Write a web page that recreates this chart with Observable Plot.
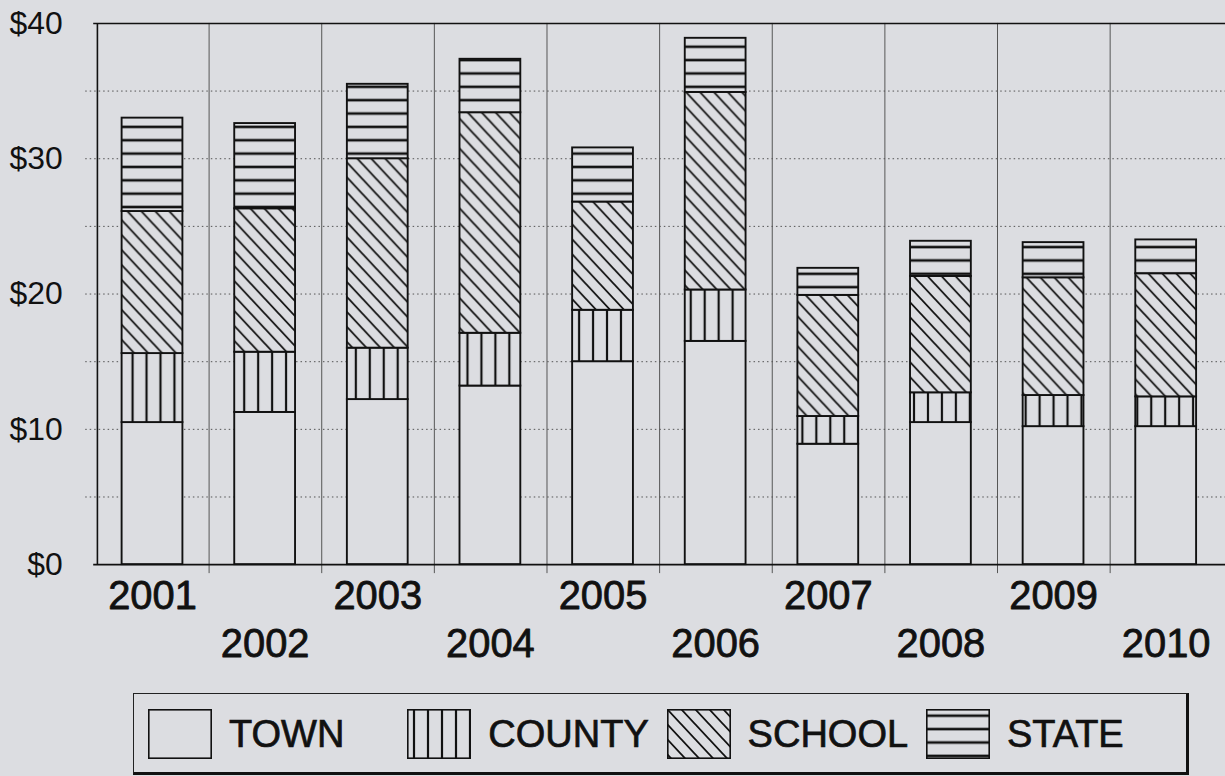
<!DOCTYPE html>
<html>
<head>
<meta charset="utf-8">
<script src="https://cdn.jsdelivr.net/npm/d3@7"></script>
<script src="https://cdn.jsdelivr.net/npm/@observablehq/plot@0.6"></script>
<style>
  html, body { margin: 0; padding: 0; background: #dcdde1; overflow: hidden; width: 1225px; height: 776px; }
  #chart { position: absolute; left: 0; top: 0; }
  #legend {
    position: absolute; left: 133px; top: 693px; width: 1052px; height: 78px;
    border-top: 1.5px solid #222; border-left: 1.5px solid #222;
    border-right: 3px solid #111; border-bottom: 3px solid #111;
    font-family: "Liberation Sans", Arial, sans-serif; color: #111;
  }
  .item { position: absolute; top: 15px; height: 50px; display: flex; align-items: center; }
  .item svg { display: block; }
  .item span { margin-left: 17px; font-size: 38px; line-height: 1; -webkit-text-stroke: 0.7px #111; }
</style>
</head>
<body>
<div id="chart"></div>
<div id="legend"></div>
<script>
const years = ["2001","2002","2003","2004","2005","2006","2007","2008","2009","2010"];
const layers = ["TOWN","COUNTY","SCHOOL","STATE"];
const town   = [10.5, 11.25, 12.2, 13.2, 15.0, 16.5, 8.9, 10.5, 10.2, 10.2];
const county = [5.1, 4.45, 3.8, 3.9, 3.8, 3.8, 2.05, 2.2, 2.3, 2.2];
const school = [10.5, 10.6, 14.0, 16.3, 8.0, 14.6, 8.95, 8.6, 8.7, 9.1];
const state  = [6.9, 6.3, 5.5, 3.95, 4.0, 4.0, 2.0, 2.6, 2.6, 2.5];
const yLabelTicks = [0, 10, 20, 30, 40];
const yGridTicks = [5, 10, 15, 20, 25, 30, 35];

const BG = "#dcdde1";
const INK = "#111";
const series = {TOWN: town, COUNTY: county, SCHOOL: school, STATE: state};
const data = [];
years.forEach((year, i) => {
  layers.forEach(layer => data.push({year, layer, value: series[layer][i]}));
});

const W = 1229, H = 680, ML = 93.5, MR = 0, MT = 23, MB = 114;
const step = (W - ML - MR) / years.length;

const chart = Plot.plot({
  width: W, height: H,
  marginLeft: ML, marginRight: MR, marginTop: MT, marginBottom: MB,
  style: {background: "transparent", fontFamily: "Liberation Sans, Arial, sans-serif", color: INK, overflow: "visible"},
  x: {domain: years, paddingInner: 0.46, paddingOuter: 0.23, axis: null},
  y: {domain: [0, 40], label: null},
  color: {domain: layers, range: [BG, "url(#p-county)", "url(#p-school)", "url(#p-state)"]},
  marks: [
    Plot.gridY(yGridTicks, {stroke: "#444", strokeOpacity: 0.9, strokeWidth: 1, strokeDasharray: "1.5,3", insetLeft: -8}),
    Plot.ruleX(years.slice(0, years.length - 1), {x: d => d, dx: step / 2, stroke: "#555", strokeWidth: 1, insetBottom: -9}),
    Plot.barY(data, Plot.stackY({x: "year", y: "value", z: "layer", fill: "layer", stroke: INK, strokeWidth: 1.9})),
    Plot.ruleY([0], {stroke: INK, strokeWidth: 1.6}),
    Plot.ruleY([40], {stroke: INK, strokeWidth: 1.6}),
    Plot.ruleX([years[0]], {x: d => d, dx: -step / 2 + 1.5, stroke: INK, strokeWidth: 1.6}),
    Plot.axisY({ticks: yLabelTicks, tickFormat: d => "$" + d, tickSize: 0, tickPadding: 31, fontSize: 32, label: null, stroke: INK, strokeWidth: 0.6}),
    Plot.text(years.filter((d, i) => i % 2 === 0), {x: d => d, frameAnchor: "bottom", dy: 32, fontSize: 40, lineAnchor: "middle", fill: INK, stroke: INK, strokeWidth: 0.8}),
    Plot.text(years.filter((d, i) => i % 2 === 1), {x: d => d, frameAnchor: "bottom", dy: 80, fontSize: 40, lineAnchor: "middle", fill: INK, stroke: INK, strokeWidth: 0.8})
  ]
});

const defs = `
<defs>
  <pattern id="p-county" patternUnits="userSpaceOnUse" width="14" height="10">
    <rect width="14" height="10" fill="${BG}"/>
    <line x1="7" y1="0" x2="7" y2="10" stroke="${INK}" stroke-width="2.2"/>
  </pattern>
  <pattern id="p-school" patternUnits="userSpaceOnUse" width="14" height="15">
    <rect width="14" height="15" fill="${BG}"/>
    <path d="M0,0L14,15M-1,13.9L1,16.1M13,-1.1L15,1.1" stroke="${INK}" stroke-width="1.8"/>
  </pattern>
  <pattern id="p-state" patternUnits="userSpaceOnUse" width="10" height="13.4">
    <rect width="10" height="13.4" fill="${BG}"/>
    <line x1="0" y1="6.7" x2="10" y2="6.7" stroke="${INK}" stroke-width="2.6"/>
  </pattern>
</defs>`;
chart.insertAdjacentHTML("afterbegin", defs);
document.getElementById("chart").appendChild(chart);

// legend
const legend = document.getElementById("legend");
const fills = [BG, "url(#p-county)", "url(#p-school)", "url(#p-state)"];
layers.forEach((layer, i) => {
  const item = document.createElement("div");
  item.className = "item";
  item.style.left = (14 + i * 259.3) + "px";
  item.innerHTML = `<svg width="64" height="50"><rect x="0.8" y="0.8" width="62.4" height="48.4" fill="${fills[i]}" stroke="${INK}" stroke-width="1.6"/></svg><span>${layer}</span>`;
  legend.appendChild(item);
});
</script>
</body>
</html>
